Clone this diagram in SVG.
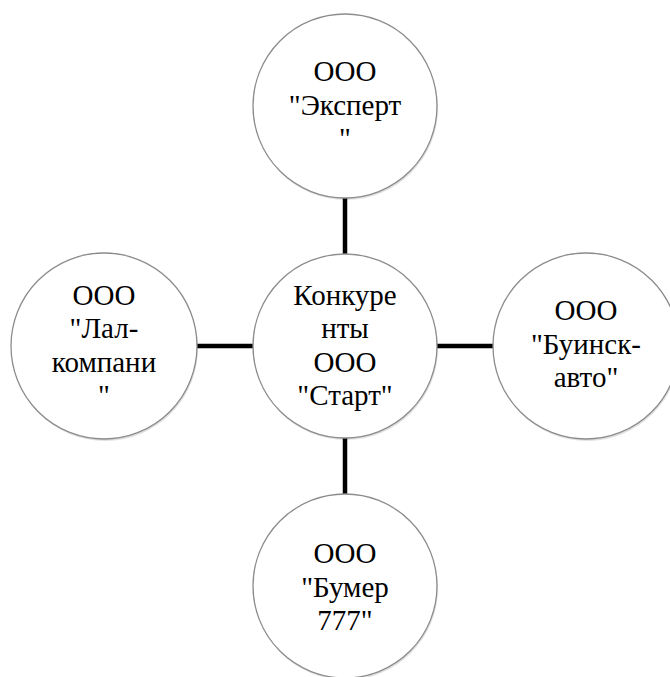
<svg xmlns="http://www.w3.org/2000/svg" width="670" height="677" viewBox="0 0 670 677">
<rect width="670" height="677" fill="#fff"/>
<g id="connectors" stroke="#000" stroke-width="4.5" fill="none">
<line x1="345" y1="198" x2="345" y2="254"/>
<line x1="197" y1="346" x2="253" y2="346"/>
<line x1="437" y1="346" x2="494" y2="346"/>
<line x1="345" y1="438" x2="345" y2="494"/>
</g>
<g id="node-top">
<circle cx="346" cy="108" r="92" fill="#000" fill-opacity="0.12"/>
<circle cx="345" cy="106" r="92" fill="#fff" stroke="#8c8c8c" stroke-width="1.3"/>
<text x="345" y="81" font-family="Times New Roman" font-size="29" text-anchor="middle">ООО</text>
<text x="345" y="115" font-family="Times New Roman" font-size="29" text-anchor="middle">"Эксперт</text>
<text x="345" y="148" font-family="Times New Roman" font-size="29" text-anchor="middle">"</text>
</g>
<g id="node-left">
<circle cx="105" cy="348" r="93" fill="#000" fill-opacity="0.12"/>
<circle cx="104" cy="346" r="93" fill="#fff" stroke="#8c8c8c" stroke-width="1.3"/>
<text x="104" y="305" font-family="Times New Roman" font-size="29" text-anchor="middle">ООО</text>
<text x="104" y="338" font-family="Times New Roman" font-size="29" text-anchor="middle">"Лал-</text>
<text x="104" y="372" font-family="Times New Roman" font-size="29" text-anchor="middle">компани</text>
<text x="104" y="405" font-family="Times New Roman" font-size="29" text-anchor="middle">"</text>
</g>
<g id="node-right">
<circle cx="587" cy="348" r="93" fill="#000" fill-opacity="0.12"/>
<circle cx="586" cy="346" r="93" fill="#fff" stroke="#8c8c8c" stroke-width="1.3"/>
<text x="586" y="320" font-family="Times New Roman" font-size="29" text-anchor="middle">ООО</text>
<text x="586" y="354" font-family="Times New Roman" font-size="29" text-anchor="middle">"Буинск-</text>
<text x="586" y="387" font-family="Times New Roman" font-size="29" text-anchor="middle">авто"</text>
</g>
<g id="node-center">
<circle cx="346" cy="348" r="92" fill="#000" fill-opacity="0.12"/>
<circle cx="345" cy="346" r="92" fill="#fff" stroke="#8c8c8c" stroke-width="1.3"/>
<text x="345" y="305" font-family="Times New Roman" font-size="29" text-anchor="middle">Конкуре</text>
<text x="345" y="338" font-family="Times New Roman" font-size="29" text-anchor="middle">нты</text>
<text x="345" y="372" font-family="Times New Roman" font-size="29" text-anchor="middle">ООО</text>
<text x="345" y="405" font-family="Times New Roman" font-size="29" text-anchor="middle">"Старт"</text>
</g>
<g id="node-bottom">
<circle cx="346" cy="588" r="92" fill="#000" fill-opacity="0.12"/>
<circle cx="345" cy="586" r="92" fill="#fff" stroke="#8c8c8c" stroke-width="1.3"/>
<text x="345" y="563" font-family="Times New Roman" font-size="29" text-anchor="middle">ООО</text>
<text x="345" y="597" font-family="Times New Roman" font-size="29" text-anchor="middle">"Бумер</text>
<text x="345" y="630" font-family="Times New Roman" font-size="29" text-anchor="middle">777"</text>
</g>
</svg>
